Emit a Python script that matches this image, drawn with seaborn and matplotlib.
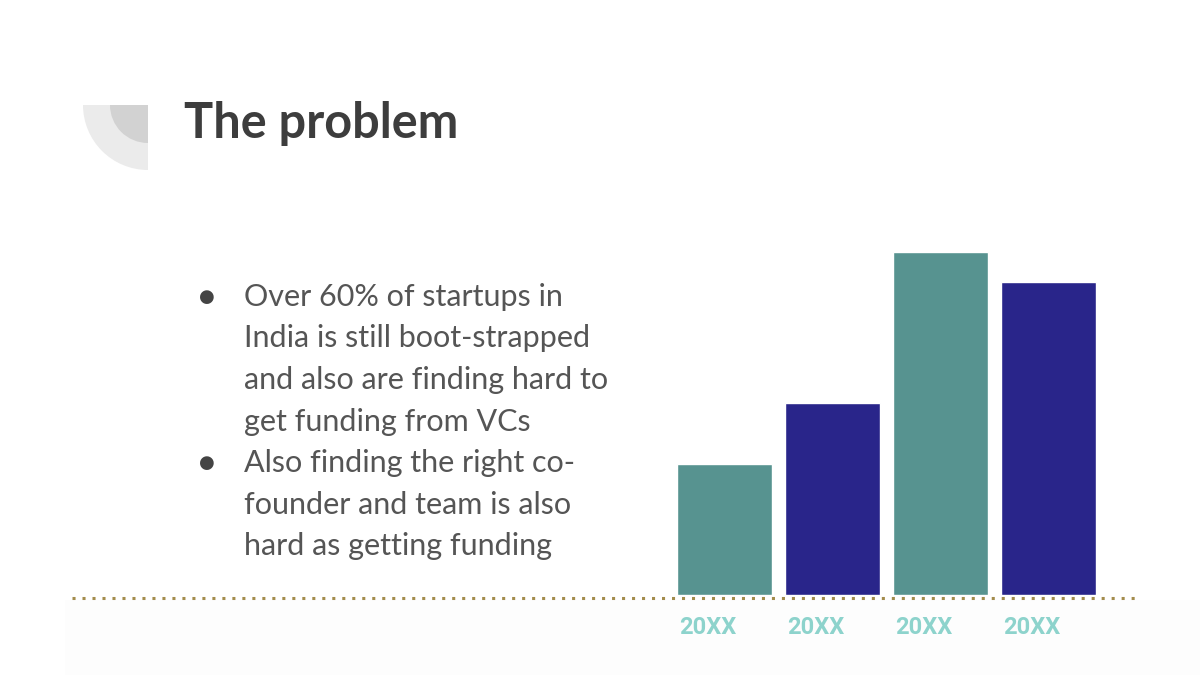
import pandas as pd
import seaborn as sns
import matplotlib.pyplot as plt
from matplotlib.patches import Wedge, Rectangle
from matplotlib.transforms import ScaledTranslation

# Data
periods = [1, 2, 3, 4]
tick_labels = ['20XX', '20XX', '20XX', '20XX']
values = [1.3, 1.9, 3.4, 3.1]
bar_colors = ['#579390', '#29258a', '#579390', '#29258a']

title = 'The problem'
bullet_lines = [
    ['Over 60% of startups in', 'India is still boot-strapped',
     'and also are finding hard to', 'get funding from VCs'],
    ['Also finding the right co-', 'founder and team is also',
     'hard as getting funding'],
]

df = pd.DataFrame({'period': periods, 'value': values})

sns.set_theme(style='white')
plt.rcParams['font.family'] = ['Lato', 'DejaVu Sans']

fig = plt.figure(figsize=(12, 6.75), dpi=100)
fig.patch.set_facecolor('white')

# background / decoration layer in pixel coords
bg = fig.add_axes([0, 0, 1, 1], zorder=0)
bg.set_xlim(0, 1200)
bg.set_ylim(675, 0)
bg.axis('off')
bg.add_patch(Rectangle((65, 600), 1135, 75, color='#fdfdfd', lw=0))
bg.add_patch(Wedge((148, 105), 65, 90, 180, color='#ebebeb', lw=0))
bg.add_patch(Wedge((148, 105), 38, 90, 180, color='#d2d2d2', lw=0))
bg.plot([72, 1135], [598, 598], color='#a38c4c', lw=2.2,
        linestyle=(0, (1, 2.27)), solid_capstyle='butt')

bg.text(184, 138, title, fontsize=35, fontweight='bold', color='#3d3d3d',
        va='baseline')

y = 306
for para in bullet_lines:
    bg.text(207, y - 9, '\u25cf', fontsize=13, color='#444444',
            family='DejaVu Sans', ha='center', va='center')
    for line in para:
        bg.text(244, y, line, fontsize=22, color='#555555', va='baseline')
        y += 41.5

# bar chart
ax = fig.add_axes([670.5 / 1200, 80 / 675, 432 / 1200, 355 / 675], zorder=1)
ax.patch.set_alpha(0)
sns.barplot(data=df, x='period', y='value', hue='period', palette=bar_colors,
            legend=False, width=0.88, saturation=1, ax=ax)
ax.set_xlim(-0.5, 3.5)
ax.set_ylim(0, 3.52)
sns.despine(ax=ax, left=True, bottom=True)
ax.set_yticks([])
ax.set_xlabel('')
ax.set_ylabel('')
ax.set_xticks(range(len(tick_labels)))
ax.set_xticklabels(tick_labels, fontsize=17, fontweight='bold',
                   color='#8dd3cc', family=['Roboto', 'DejaVu Sans'], ha='left')
ax.tick_params(axis='x', length=0, pad=15)
shift = ScaledTranslation(-0.455, 0, fig.dpi_scale_trans)
for lab in ax.get_xticklabels():
    lab.set_transform(lab.get_transform() + shift)

fig.savefig('out.png', dpi=100)
